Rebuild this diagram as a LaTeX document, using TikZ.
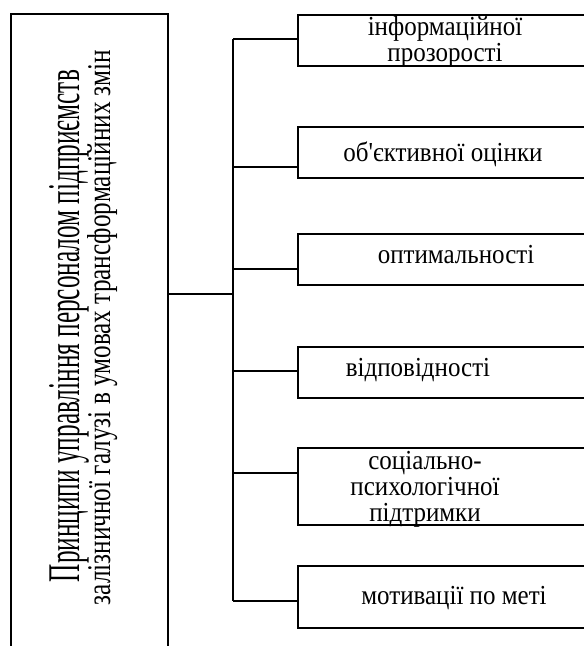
\documentclass[tikz,border=0pt]{standalone}
\usepackage{fontspec}
\usepackage{graphicx}
\setmainfont{Liberation Serif}
\newfontfamily\plainserif{Liberation Serif}
\newcommand{\boxtxt}[1]{\scalebox{1}[1.1]{\fontsize{25}{22.5}\selectfont\begin{tabular}{@{}c@{}}#1\end{tabular}}}
\begin{document}
\begin{tikzpicture}[x=1pt,y=-1pt,
  frame/.style={draw=black, line width=1.5pt, inner sep=0pt, rectangle},
  conn/.style={draw=black, line width=1.5pt},
  txt/.style={inner sep=0pt, text=black}]
\useasboundingbox (0,0) rectangle (584,646);
\clip (0,0) rectangle (584,646);
% left box (bottom open, extends beyond the page)
\node[frame, minimum width=157pt, minimum height=686pt] (lb) at (89.5,357) {};
\node[txt, rotate=90, anchor=base] (l1) at (79,326) {\resizebox{512pt}{30pt}{Принципи управління персоналом підприємств}};
\node[txt, rotate=90, anchor=base] (l2) at (110,327.5) {\resizebox{555pt}{23pt}{залізничної галузі в умовах трансформаційних змін}};
% right boxes (right edge beyond the page)
\node[frame, minimum width=323pt, minimum height=51pt, anchor=north west] (b1) at (297,14) {};
\node[frame, minimum width=323pt, minimum height=51pt, anchor=north west] (b2) at (297,126) {};
\node[frame, minimum width=323pt, minimum height=51pt, anchor=north west] (b3) at (297,233) {};
\node[frame, minimum width=323pt, minimum height=51pt, anchor=north west] (b4) at (297,346) {};
\node[frame, minimum width=323pt, minimum height=77pt, anchor=north west] (b5) at (297,447) {};
\node[frame, minimum width=323pt, minimum height=62pt, anchor=north west] (b6) at (297,565) {};
% texts
\node[txt] (x1) at (445,42.5) {\boxtxt{інформаційної\\прозорості}};
\node[txt] (x2) at (443,155) {\boxtxt{об{\plainserif'}єктивної оцінки}};
\node[txt] (x3) at (456,258) {\boxtxt{оптимальності}};
\node[txt] (x4) at (418,371) {\boxtxt{відповідності}};
\node[txt] (x5) at (425,490) {\boxtxt{соціально-\\психологічної\\підтримки}};
\node[txt] (x6) at (454,599) {\boxtxt{мотивації по меті}};
% connectors
\coordinate (j) at (233,294);
\coordinate (t1) at (233,39);
\coordinate (t2) at (233,167);
\coordinate (t3) at (233,269);
\coordinate (t4) at (233,371);
\coordinate (t5) at (233,473);
\coordinate (t6) at (233,601);
\draw[conn] (lb.east |- j) -- (j);
\draw[conn] (t1) -- (t6);
\draw[conn] (t1) -- (b1.west |- t1);
\draw[conn] (t2) -- (b2.west |- t2);
\draw[conn] (t3) -- (b3.west |- t3);
\draw[conn] (t4) -- (b4.west |- t4);
\draw[conn] (t5) -- (b5.west |- t5);
\draw[conn] (t6) -- (b6.west |- t6);
\end{tikzpicture}
\end{document}
